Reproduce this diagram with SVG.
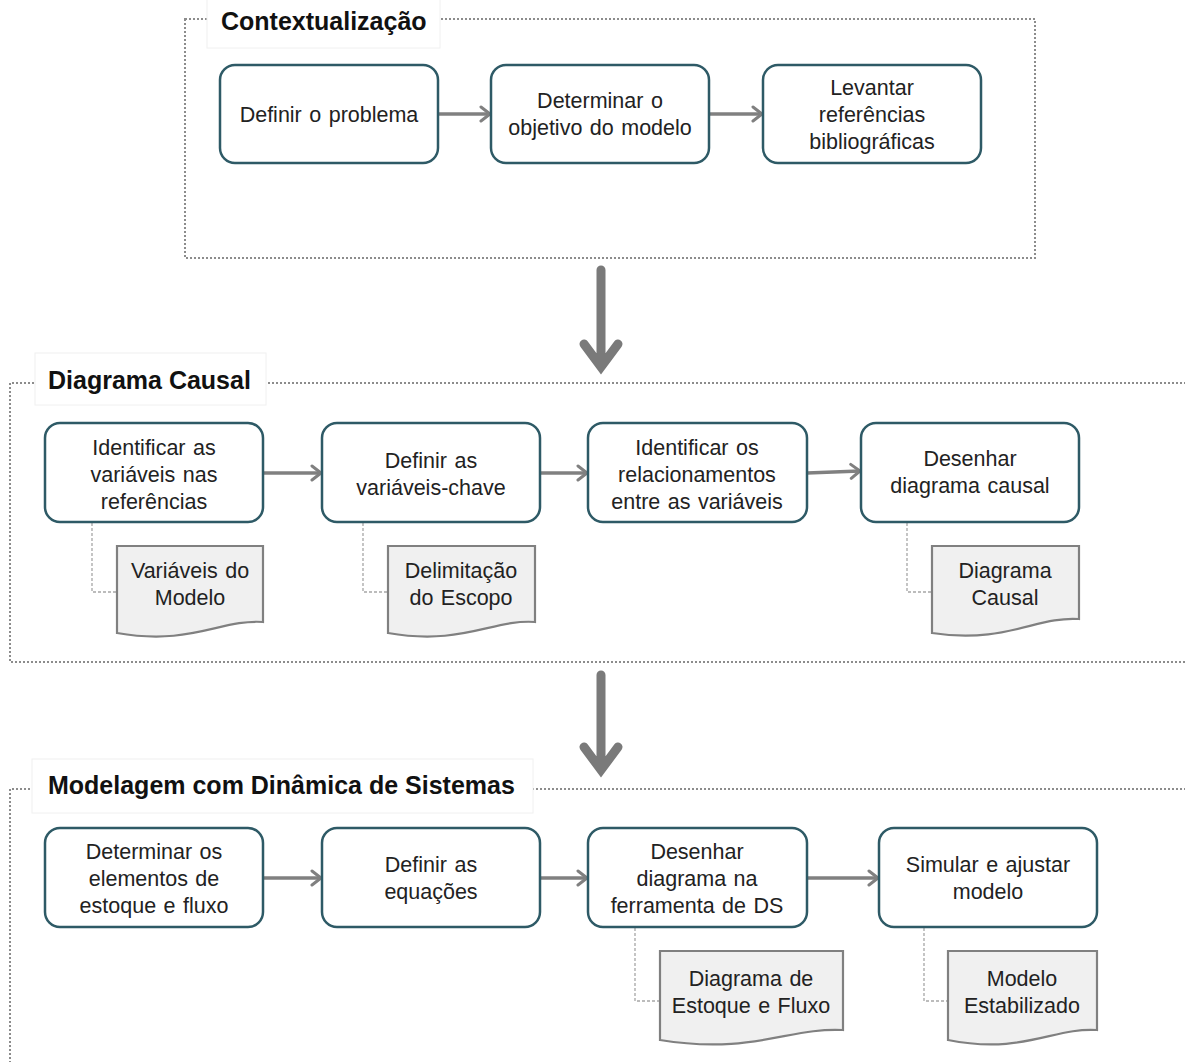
<svg xmlns="http://www.w3.org/2000/svg" width="1185" height="1062" viewBox="0 0 1185 1062">
  <style>
    .frame { fill: none; stroke: #8c8c8c; stroke-width: 2; stroke-dasharray: 2 2; }
    .tbox { fill: #ffffff; stroke: #f0f0f0; stroke-width: 1; }
    .title { font-family: "Liberation Sans", Arial, sans-serif; font-weight: bold; font-size: 25px; fill: #111111; }
    .step { fill: #ffffff; stroke: #2e5a66; stroke-width: 2.5; }
    .doc { fill: #f0f0f0; stroke: #808080; stroke-width: 2.2; }
    .lbl { font-family: "Liberation Sans", Arial, sans-serif; font-size: 21.5px; word-spacing: 1.5px; fill: #222222; text-anchor: middle; }
    .flow { fill: none; stroke: #808080; stroke-width: 3.5; marker-end: url(#ah); }
    .link { fill: none; stroke: #a6a6a6; stroke-width: 1.3; stroke-dasharray: 3 2; }
    .big { fill: none; stroke: #7a7a7a; stroke-width: 9; stroke-linecap: round; stroke-linejoin: miter; }
  </style>
  <defs>
    <marker id="ah" markerUnits="userSpaceOnUse" markerWidth="16" markerHeight="18" refX="12" refY="9" orient="auto">
      <path d="M3,2 L12,9 L3,16" fill="none" stroke="#808080" stroke-width="3" stroke-linecap="round" stroke-linejoin="round"/>
    </marker>
  </defs>
  <rect width="1185" height="1062" fill="#ffffff"/>

  <!-- Phase frames -->
  <g id="phase-contextualizacao">
    <rect class="frame" x="185" y="19" width="850" height="239"/>
    <rect class="tbox" x="207" y="-1" width="233" height="49"/>
    <text class="title" x="221" y="30">Contextualização</text>
  </g>
  <g id="phase-diagrama-causal">
    <path class="frame" d="M1190,383 H10 V662 H1190"/>
    <rect class="tbox" x="35" y="353" width="231" height="52"/>
    <text class="title" x="48" y="389">Diagrama Causal</text>
  </g>
  <g id="phase-modelagem">
    <path class="frame" d="M1190,789 H10 V1070"/>
    <rect class="tbox" x="32" y="759" width="501" height="54"/>
    <text class="title" x="48" y="794">Modelagem com Dinâmica de Sistemas</text>
  </g>

  <!-- Connectors -->
  <g id="connectors">
    <line class="flow" x1="438" y1="114" x2="490" y2="114"/>
    <line class="flow" x1="709" y1="114" x2="762" y2="114"/>

    <line class="flow" x1="263" y1="473" x2="321" y2="473"/>
    <line class="flow" x1="540" y1="473" x2="587" y2="473"/>
    <line class="flow" x1="807" y1="473" x2="860" y2="471"/>

    <line class="flow" x1="263" y1="878" x2="321" y2="878"/>
    <line class="flow" x1="540" y1="878" x2="587" y2="878"/>
    <line class="flow" x1="807" y1="878" x2="878" y2="878"/>

    <path class="link" d="M92,523 V592 H117"/>
    <path class="link" d="M363,523 V592 H388"/>
    <path class="link" d="M907,523 V592 H932"/>
    <path class="link" d="M635,928 V1001 H660"/>
    <path class="link" d="M924,928 V1001 H948"/>

    <path class="big" d="M601,270 V364 M584,344 L601,367 L618,344"/>
    <path class="big" d="M601,675 V767 M584,747 L601,770 L618,747"/>
  </g>

  <!-- Contextualização steps -->
  <g id="definir-problema">
    <rect class="step" x="220" y="65" width="218" height="98" rx="15"/>
    <text class="lbl" x="329" y="122">Definir o problema</text>
  </g>
  <g id="determinar-objetivo">
    <rect class="step" x="491" y="65" width="218" height="98" rx="15"/>
    <text class="lbl" x="600" y="108">Determinar o</text>
    <text class="lbl" x="600" y="135">objetivo do modelo</text>
  </g>
  <g id="levantar-referencias">
    <rect class="step" x="763" y="65" width="218" height="98" rx="15"/>
    <text class="lbl" x="872" y="95">Levantar</text>
    <text class="lbl" x="872" y="122">referências</text>
    <text class="lbl" x="872" y="149">bibliográficas</text>
  </g>

  <!-- Diagrama Causal steps -->
  <g id="identificar-variaveis">
    <rect class="step" x="45" y="423" width="218" height="99" rx="15"/>
    <text class="lbl" x="154" y="455">Identificar as</text>
    <text class="lbl" x="154" y="482">variáveis nas</text>
    <text class="lbl" x="154" y="509">referências</text>
  </g>
  <g id="definir-variaveis-chave">
    <rect class="step" x="322" y="423" width="218" height="99" rx="15"/>
    <text class="lbl" x="431" y="468">Definir as</text>
    <text class="lbl" x="431" y="495">variáveis-chave</text>
  </g>
  <g id="identificar-relacionamentos">
    <rect class="step" x="588" y="423" width="219" height="99" rx="15"/>
    <text class="lbl" x="697" y="455">Identificar os</text>
    <text class="lbl" x="697" y="482">relacionamentos</text>
    <text class="lbl" x="697" y="509">entre as variáveis</text>
  </g>
  <g id="desenhar-diagrama-causal">
    <rect class="step" x="861" y="423" width="218" height="99" rx="15"/>
    <text class="lbl" x="970" y="466">Desenhar</text>
    <text class="lbl" x="970" y="493">diagrama causal</text>
  </g>

  <!-- Diagrama Causal outputs -->
  <g id="doc-variaveis-modelo">
    <path class="doc" d="M117,546 H263 V622 C221,619 191,646 117,633 Z"/>
    <text class="lbl" x="190" y="578">Variáveis do</text>
    <text class="lbl" x="190" y="605">Modelo</text>
  </g>
  <g id="doc-delimitacao-escopo">
    <path class="doc" d="M388,546 H535 V622 C493,619 462,646 388,633 Z"/>
    <text class="lbl" x="461" y="578">Delimitação</text>
    <text class="lbl" x="461" y="605">do Escopo</text>
  </g>
  <g id="doc-diagrama-causal">
    <path class="doc" d="M932,546 H1079 V619 C1037,616 1006,644 932,633 Z"/>
    <text class="lbl" x="1005" y="578">Diagrama</text>
    <text class="lbl" x="1005" y="605">Causal</text>
  </g>

  <!-- Modelagem steps -->
  <g id="determinar-elementos">
    <rect class="step" x="45" y="828" width="218" height="99" rx="15"/>
    <text class="lbl" x="154" y="859">Determinar os</text>
    <text class="lbl" x="154" y="886">elementos de</text>
    <text class="lbl" x="154" y="913">estoque e fluxo</text>
  </g>
  <g id="definir-equacoes">
    <rect class="step" x="322" y="828" width="218" height="99" rx="15"/>
    <text class="lbl" x="431" y="872">Definir as</text>
    <text class="lbl" x="431" y="899">equações</text>
  </g>
  <g id="desenhar-diagrama-ds">
    <rect class="step" x="588" y="828" width="219" height="99" rx="15"/>
    <text class="lbl" x="697" y="859">Desenhar</text>
    <text class="lbl" x="697" y="886">diagrama na</text>
    <text class="lbl" x="697" y="913">ferramenta de DS</text>
  </g>
  <g id="simular-ajustar">
    <rect class="step" x="879" y="828" width="218" height="99" rx="15"/>
    <text class="lbl" x="988" y="872">Simular e ajustar</text>
    <text class="lbl" x="988" y="899">modelo</text>
  </g>

  <!-- Modelagem outputs -->
  <g id="doc-estoque-fluxo">
    <path class="doc" d="M660,951 H843 V1030 C790,1027 752,1055 660,1040 Z"/>
    <text class="lbl" x="751" y="986">Diagrama de</text>
    <text class="lbl" x="751" y="1013">Estoque e Fluxo</text>
  </g>
  <g id="doc-modelo-estabilizado">
    <path class="doc" d="M948,951 H1097 V1030 C1054,1027 1023,1055 948,1040 Z"/>
    <text class="lbl" x="1022" y="986">Modelo</text>
    <text class="lbl" x="1022" y="1013">Estabilizado</text>
  </g>
</svg>
